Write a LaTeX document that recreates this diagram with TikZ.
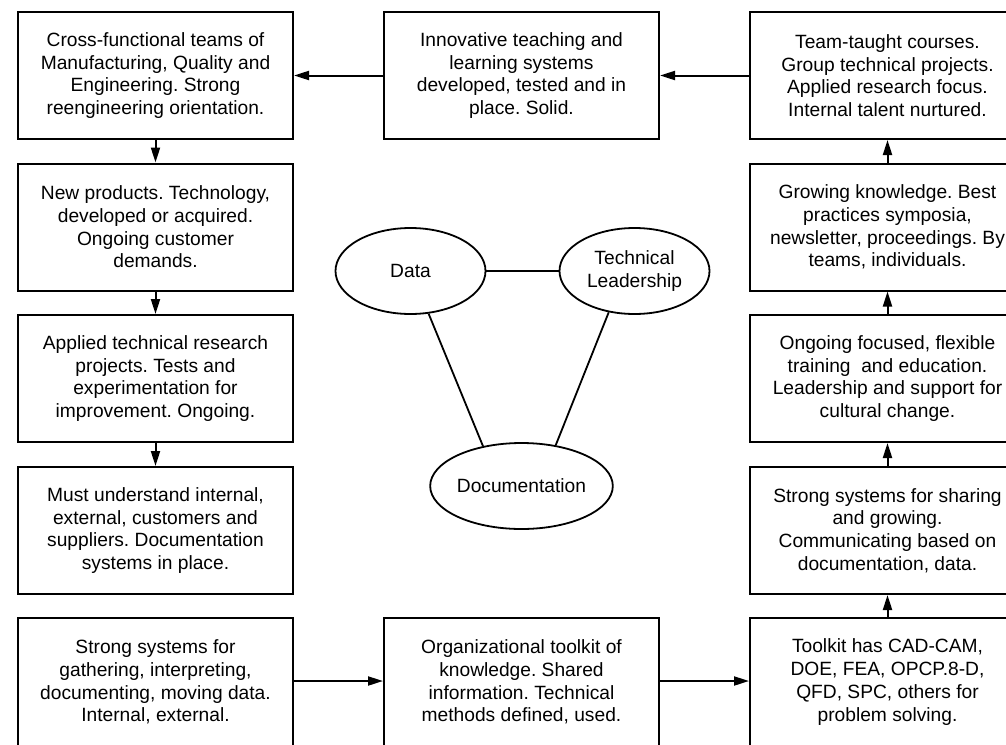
\documentclass[tikz,border=0pt]{standalone}
\usepackage{fontspec}
\setmainfont{Liberation Sans}
\usetikzlibrary{shapes.geometric,arrows.meta}
\frenchspacing

\tikzset{
  flowbox/.style={draw, line width=2pt, rectangle, minimum width=275pt,
    minimum height=127pt, inner sep=0pt, align=center,
    font=\fontsize{19.2pt}{22.7pt}\selectfont},
  lowbox/.style={flowbox, minimum height=128pt},
  pillar/.style={draw, line width=1.8pt, ellipse, minimum width=150pt,
    minimum height=86pt, inner sep=0pt, align=center,
    font=\fontsize{19.2pt}{22.7pt}\selectfont},
  flow/.style={line width=2pt, -{Triangle[length=15pt,width=9pt]}},
  link/.style={line width=1.8pt}
}

\begin{document}
\begin{tikzpicture}[x=1pt,y=-1pt]
\clip (0,0) rectangle (1006,744);
\fill[white] (0,0) rectangle (1006,744);

% left column, top to bottom
\node[flowbox] (l1) at (155.5,75.5) {Cross-functional teams of\\Manufacturing, Quality and\\Engineering. Strong\\reengineering orientation.};
\node[flowbox] (l2) at (155.5,227) {New products. Technology,\\developed or acquired.\\Ongoing customer\\demands.};
\node[flowbox] (l3) at (155.5,378.5) {Applied technical research\\projects. Tests and\\experimentation for\\improvement. Ongoing.};
\node[flowbox] (l4) at (155.5,530.5) {Must understand internal,\\external, customers and\\suppliers. Documentation\\systems in place.};
\node[lowbox] (l5) at (155.5,682) {Strong systems for\\gathering, interpreting,\\documenting, moving data.\\Internal, external.};

% middle column
\node[flowbox] (m1) at (521.5,75.5) {Innovative teaching and\\learning systems\\developed, tested and in\\place. Solid.};
\node[lowbox] (m5) at (521.5,682) {Organizational toolkit of\\knowledge. Shared\\information. Technical\\methods defined, used.};

% right column, top to bottom
\node[flowbox] (r1) at (887.5,75.5) {Team-taught courses.\\Group technical projects.\\Applied research focus.\\Internal talent nurtured.};
\node[flowbox] (r2) at (887.5,227) {Growing knowledge. Best\\practices symposia,\\newsletter, proceedings. By\\teams, individuals.};
\node[flowbox] (r3) at (887.5,378.5) {Ongoing focused, flexible\\training\ \ and education.\\Leadership and support for\\cultural change.};
\node[flowbox] (r4) at (887.5,530.5) {Strong systems for sharing\\and growing.\\Communicating based on\\documentation, data.};
\node[lowbox] (r5) at (887.5,682) {Toolkit has CAD-CAM,\\DOE, FEA, OPCP.8-D,\\QFD, SPC, others for\\problem solving.};

% central triangle
\node[pillar] (data) at (410.5,271) {Data};
\node[pillar] (lead) at (634.5,271) {Technical\\Leadership};
\node[pillar] (doc) at (521.5,486) {Documentation};

\draw[link] (data) -- (lead);
\draw[link] (data.-67) -- (doc.134);
\draw[link] (lead.-122) -- (doc.50.5);

% flow arrows
\draw[flow] (l1) -- (l2);
\draw[flow] (l2) -- (l3);
\draw[flow] (l3) -- (l4);
\draw[flow] (l5.east |- 0,681) -- (m5.west |- 0,681);
\draw[flow] (m5.east |- 0,681) -- (r5.west |- 0,681);
\draw[flow] (r5) -- (r4);
\draw[flow] (r4) -- (r3);
\draw[flow] (r3) -- (r2);
\draw[flow] (r2) -- (r1);
\draw[flow] (r1) -- (m1);
\draw[flow] (m1) -- (l1);
\end{tikzpicture}
\end{document}
